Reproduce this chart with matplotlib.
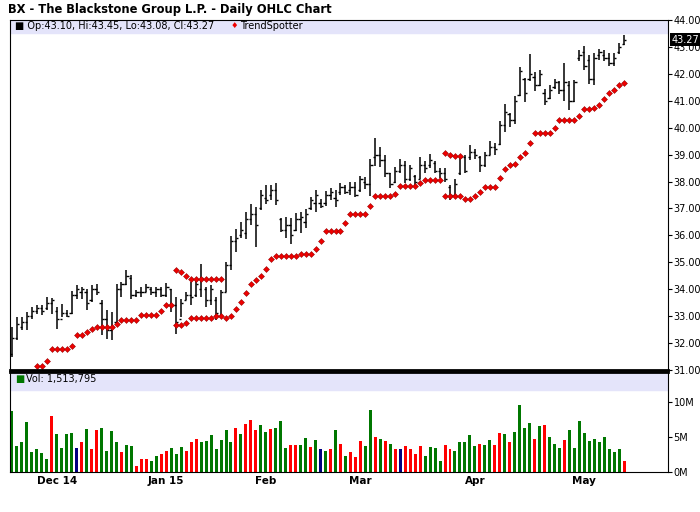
import matplotlib.pyplot as plt
import numpy as np

nan = np.nan

# daily bars (Nov 2014 - May 15 2015)
highs = [32.6, 32.97, 32.97, 33.15, 33.34, 33.4, 33.4, 33.71, 33.67, 33.34,
         33.46, 33.22, 33.93, 34.15, 34.08, 34.02, 34.15, 34.21, 33.59, 33.22,
         33.15, 34.18, 34.27, 34.7, 34.52, 33.96, 34.08, 34.21, 34.08, 34.08,
         34.08, 34.23, 34.02, 33.71, 33.65, 33.9, 34.27, 34.39, 34.95, 34.08,
         34.15, 33.71, 33.96, 35.01, 35.97, 36.22, 36.5, 36.88, 37.16, 37.06,
         37.68, 37.89, 37.89, 37.96, 36.66, 36.69, 36.63, 36.82, 36.88, 36.97,
         37.41, 37.68, 37.37, 37.66, 37.75, 37.68, 37.93, 37.89, 37.99, 37.99,
         38.2, 38.18, 38.82, 39.63, 39.27, 38.99, 38.33, 38.55, 38.82, 38.76,
         38.61, 38.24, 38.92, 38.76, 39.02, 38.76, 38.49, 38.49, 37.87, 38.08,
         38.98, 38.98, 39.34, 39.22, 38.95, 39.1, 39.49, 39.44, 40.26, 40.87,
         40.54, 41.18, 42.26, 41.85, 42.75, 42.06, 42.16, 41.45, 41.58, 41.82,
         41.73, 42.4, 41.73, 41.79, 42.89, 43.04, 42.71, 42.77, 42.92, 42.87,
         42.77, 42.77, 43.16, 43.45]
lows = [31.5, 32.1, 32.47, 32.47, 32.9, 33.09, 33.03, 33.22, 33.09, 32.53,
        32.97, 32.97, 33.09, 33.65, 33.65, 33.22, 33.52, 33.77, 32.29, 32.16,
        32.1, 32.72, 33.71, 34.15, 33.65, 33.71, 33.71, 33.9, 33.77, 33.71,
        33.71, 33.71, 33.15, 32.35, 32.97, 33.59, 33.4, 33.71, 33.71, 33.34,
        33.4, 32.84, 32.97, 33.9, 34.71, 35.39, 35.89, 35.85, 36.38, 35.58,
        36.94, 37.16, 37.31, 37.13, 36.14, 35.89, 35.68, 36.17, 36.1, 36.26,
        36.94, 36.88, 37.0, 37.09, 37.31, 37.06, 37.5, 37.52, 37.5, 37.41,
        37.62, 37.71, 37.46, 38.58, 38.55, 38.18, 37.75, 37.93, 38.33, 37.93,
        38.03, 37.87, 38.08, 38.3, 38.49, 38.33, 38.12, 38.0, 37.32, 37.39,
        38.24, 38.3, 38.79, 38.85, 38.37, 38.55, 38.98, 39.0, 39.34, 39.83,
        40.02, 40.14, 41.16, 40.96, 41.73, 41.36, 41.55, 40.84, 41.08, 41.45,
        41.24, 40.99, 40.67, 40.96, 42.47, 42.13, 41.61, 41.58, 42.53, 42.47,
        42.28, 42.31, 42.75, 43.08]
opens = [31.6, 32.2, 32.6, 32.8, 33.0, 33.2, 33.3, 33.3, 33.5, 33.2,
         32.9, 33.1, 33.1, 33.8, 33.9, 33.9, 33.6, 34.0, 33.5, 32.9,
         32.5, 32.8, 34.0, 34.2, 34.4, 33.8, 33.9, 33.9, 34.0, 33.9,
         34.0, 33.8, 34.0, 33.4, 32.9, 33.6, 33.8, 33.8, 34.0, 34.0,
         33.6, 33.6, 33.0, 33.9, 34.9, 35.8, 36.0, 36.1, 36.6, 36.8,
         37.0, 37.4, 37.5, 37.7, 36.6, 36.2, 36.4, 36.2, 36.6, 36.5,
         37.0, 37.2, 37.2, 37.2, 37.5, 37.4, 37.6, 37.8, 37.7, 37.8,
         37.7, 38.0, 37.9, 38.9, 39.0, 38.8, 38.3, 38.0, 38.4, 38.6,
         38.1, 38.2, 38.1, 38.6, 38.6, 38.7, 38.4, 38.3, 37.8, 37.5,
         38.3, 38.9, 38.9, 39.1, 38.9, 38.6, 39.0, 39.3, 39.4, 40.1,
         40.5, 40.3, 41.2, 41.8, 41.8, 41.9, 41.6, 41.3, 41.1, 41.5,
         41.7, 41.4, 41.6, 41.0, 42.6, 42.8, 42.5, 41.8, 42.7, 42.7,
         42.6, 42.4, 42.8, 43.10]
closes = [32.2, 32.7, 32.8, 33.0, 33.2, 33.3, 33.2, 33.5, 33.6, 32.9,
          33.1, 33.0, 33.8, 34.0, 34.0, 33.5, 34.0, 33.9, 32.9, 32.5,
          32.6, 34.0, 34.2, 34.5, 33.8, 33.9, 33.9, 34.1, 33.9, 34.0,
          33.8, 34.1, 33.4, 32.8, 33.5, 33.8, 33.7, 34.2, 34.4, 33.6,
          34.0, 33.1, 33.9, 34.9, 35.8, 35.9, 36.2, 36.6, 36.8, 36.4,
          37.5, 37.3, 37.7, 37.3, 36.2, 36.4, 36.0, 36.6, 36.7, 36.8,
          37.3, 37.5, 37.1, 37.5, 37.6, 37.3, 37.8, 37.6, 37.8, 37.5,
          38.1, 37.9, 38.6, 39.0, 38.8, 38.3, 37.9, 38.4, 38.6, 38.1,
          38.5, 38.0, 38.6, 38.5, 38.8, 38.4, 38.3, 38.1, 37.5, 37.9,
          38.9, 38.4, 39.1, 39.0, 38.6, 39.0, 39.3, 39.2, 40.1, 40.6,
          40.3, 41.0, 42.1, 41.3, 42.0, 41.6, 42.0, 41.0, 41.4, 41.7,
          41.4, 41.7, 41.0, 41.7, 42.7, 42.3, 41.8, 42.6, 42.8, 42.6,
          42.4, 42.6, 43.0, 43.27]

# TrendSpotter stops (lower and upper)
ts_low = ([nan] * 5 + [31.15, 31.15, 31.35] + [31.77] * 4 + [31.88, 32.31, 32.31, 32.42, 32.53]
          + [32.58] * 4 + [32.7] + [32.87] * 4 + [33.05] * 4 + [33.18, 33.43, 33.43, 32.68, 32.68, 32.76]
          + [32.94] * 5 + [33.0, 33.0, 32.95, 33.0, 33.25, 33.51, 33.87, 34.21, 34.34, 34.49, 34.74, 35.14]
          + [35.23] * 5 + [35.32] * 3 + [35.48, 35.81] + [36.15] * 4 + [36.45] + [36.78] * 4
          + [37.08] + [37.45] * 4 + [37.54] + [37.82] * 4 + [37.93] + [38.06] * 4
          + [37.45] * 4 + [37.36, 37.36, 37.45, 37.63, 37.78, 37.78, 37.78, 38.12, 38.45, 38.63,
                           38.67, 38.92, 39.06, 39.43] + [39.8] * 4 + [39.98] + [40.3] * 4
          + [40.45, 40.69, 40.69, 40.75, 40.84, 41.06, 41.28, 41.39, 41.57, 41.67])
ts_high = ([nan] * 33 + [34.7, 34.65, 34.5] + [34.39] * 7 + [nan] * 44
           + [39.06, 38.98, 38.94, 38.94] + [nan] * 33)

volumes = [8.6, 3.7, 4.2, 7.1, 2.8, 3.2, 2.7, 1.8, 7.9, 5.4, 3.4, 5.4, 5.5, 3.4, 4.2, 6.1,
           3.2, 5.9, 6.2, 3.0, 5.8, 4.3, 2.8, 3.8, 3.7, 0.9, 1.8, 1.9, 1.6, 2.3, 2.6, 3.0,
           3.4, 2.6, 3.5, 3.0, 4.3, 4.7, 4.2, 4.4, 5.2, 3.2, 4.5, 5.9, 4.3, 6.2, 5.4, 6.8,
           7.4, 6.0, 6.7, 5.7, 6.1, 6.2, 7.2, 3.4, 3.9, 3.9, 3.9, 4.8, 3.5, 4.5, 3.3, 3.0,
           3.3, 5.9, 4.0, 2.3, 2.8, 2.1, 4.4, 3.7, 8.8, 5.0, 4.7, 4.4, 4.0, 3.3, 3.3, 3.7,
           3.2, 2.6, 3.7, 2.3, 3.5, 3.4, 1.6, 3.8, 3.2, 3.0, 4.3, 4.2, 5.3, 3.7, 4.0, 3.8,
           4.5, 3.8, 5.5, 5.4, 4.3, 5.7, 9.5, 6.3, 6.9, 4.7, 6.6, 6.7, 4.9, 4.0, 3.4, 4.5,
           5.9, 3.4, 7.3, 5.5, 4.4, 4.7, 4.2, 4.9, 3.2, 2.8, 3.3, 1.51]
vol_dir = list("ggggggggrgggg" "brgrrggggrgg" "rrrggrrgggrrrgggggggrgrrr" "ggrgg" "grrggrg" "bgrgrgrrrggrgrgrbrrrrgggg"
               "rrgggggrggrrgrggggrgrgggrggg")

date_labels = ["Dec 14", "Jan 15", "Feb", "Mar", "Apr", "May"]
date_pos = [9, 31, 51, 70, 93, 115]

colors = {"g": "#007700", "r": "#ff0000", "b": "#000080"}
band = "#e4e4fa"

n = len(closes)
x = np.arange(n)
fig = plt.figure(figsize=(7, 5.12), dpi=100)
ax = fig.add_axes([10 / 700, 142 / 512, 658 / 700, 350 / 512])
axv = fig.add_axes([10 / 700, 40 / 512, 658 / 700, 100 / 512], sharex=ax)

# price panel
ax.vlines(x, lows, highs, color="black", lw=1.1)
ax.hlines(opens, x - 0.45, x, color="black", lw=1)
ax.hlines(closes, x, x + 0.45, color="black", lw=1)
ax.plot(x, ts_low, "D", color="#ee0000", mec="#990000", mew=0.4, ms=3.0, ls="none")
ax.plot(x, ts_high, "D", color="#ee0000", mec="#990000", mew=0.4, ms=3.0, ls="none")
ax.axhspan(43.52, 44.0, color=band, zorder=0)
ax.set_xlim(-0.4, 131.8)
ax.set_ylim(31, 44)
ax.yaxis.tick_right()
ax.set_yticks(np.arange(31, 45))
ax.set_yticklabels(["%.2f" % v for v in np.arange(31, 45)])
ax.tick_params(axis="y", labelsize=7, length=3, pad=1)
ax.tick_params(axis="x", length=0, labelbottom=False)
ax.text(1.006, closes[-1], "43.27", transform=ax.get_yaxis_transform(),
        ha="left", va="center", fontsize=7, color="white",
        bbox=dict(boxstyle="square,pad=0.15", fc="black", ec="none"))
ax.text(0.008, 0.984, "■ Op:43.10, Hi:43.45, Lo:43.08, Cl:43.27", transform=ax.transAxes,
        ha="left", va="center", fontsize=7)
ax.text(0.335, 0.984, "♦", color="#ee0000", transform=ax.transAxes, ha="left", va="center", fontsize=6)
ax.text(0.35, 0.984, "TrendSpotter", transform=ax.transAxes, ha="left", va="center", fontsize=7)
ax.spines["bottom"].set_linewidth(2)

# volume panel
axv.bar(x, volumes, width=0.6, color=[colors[c] for c in vol_dir])
axv.axhspan(11.6, 14.2, color=band, zorder=0)
axv.set_ylim(0, 14.2)
axv.yaxis.tick_right()
axv.set_yticks([0, 5, 10])
axv.set_yticklabels(["0M", "5M", "10M"])
axv.tick_params(axis="y", labelsize=7, length=3, pad=1)
axv.set_xticks(date_pos)
axv.set_xticklabels(date_labels, fontsize=7.5, fontweight="bold")
axv.tick_params(axis="x", length=0, pad=3)
axv.text(0.008, 0.93, "■", color="#007700", transform=axv.transAxes, ha="left", va="center", fontsize=7)
axv.text(0.025, 0.93, "Vol: 1,513,795", transform=axv.transAxes, ha="left", va="center", fontsize=7)
axv.spines["top"].set_linewidth(2)

fig.text(8 / 700, 1 - 10 / 512, "BX - The Blackstone Group L.P. - Daily OHLC Chart",
         ha="left", va="center", fontsize=8.3, fontweight="bold")

fig.savefig("out.png", dpi=100)
